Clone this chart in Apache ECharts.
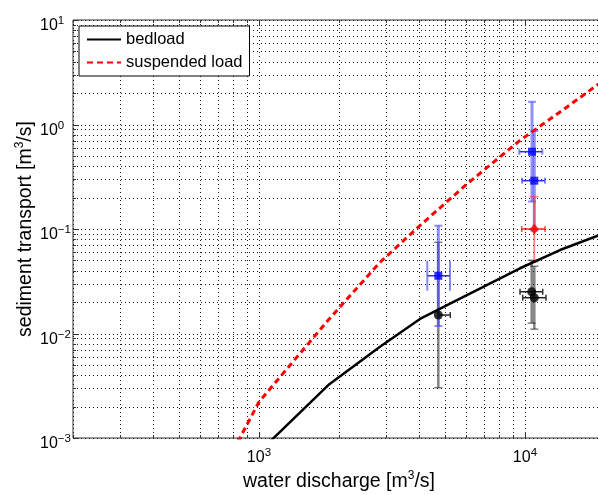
<!DOCTYPE html>
<html><head><meta charset="utf-8">
<script src="https://cdn.jsdelivr.net/npm/echarts@6/dist/echarts.min.js"></script>
<style>html,body{margin:0;padding:0;background:#fff;overflow:hidden}#c{width:598px;height:495px}</style>
</head><body><div id="c"></div>
<script>
// ---- grid / tick values ----
const xGridTicks = [200,300,400,500,600,700,800,900,1000,2000,3000,4000,5000,6000,7000,8000,9000,10000,20000];
const yGridTicks = [0.001,0.002,0.003,0.004,0.005,0.006,0.007,0.008,0.009,
  0.01,0.02,0.03,0.04,0.05,0.06,0.07,0.08,0.09,
  0.1,0.2,0.3,0.4,0.5,0.6,0.7,0.8,0.9,
  1,2,3,4,5,6,7,8,9,10];
const xMajor = [1000,10000];
const yMajor = [0.001,0.01,0.1,1,10];

// ---- curves ----
const bedQ = [1000, 1823, 2852, 4032, 6000, 9583, 13548, 20000];
const bedV = [0.00073, 0.00321, 0.00748, 0.01377, 0.0230, 0.0421, 0.0629, 0.0916];
const susQ = [800, 1000, 1823, 2852, 4032, 6000, 9583, 13548, 20000];
const susV = [0.000755, 0.00221, 0.01346, 0.048, 0.108, 0.264, 0.705, 1.317, 2.70];

// ---- measurements with error bars ----
const blackQ   = [4725, 10603, 10845];
const blackV   = [0.01503, 0.0251, 0.0220];
const blackVLo = [0.00303, 0.01255, 0.0110];
const blackVHi = [0.0746, 0.0502, 0.044];
const blackQLo = [4725, 9583, 9808];
const blackQHi = [5240, 11664, 12000];

const blueQ   = [4725, 10632, 10845];
const blueV   = [0.0357, 0.549, 0.290];
const blueVLo = [0.0118, 0.183, 0.0967];
const blueVHi = [0.1076, 1.65, 0.867];
const blueQLo = [4295, 9524, 9750];
const blueQHi = [5227, 11624, 11900];

const redQ   = [10845];
const redV   = [0.100];
const redVLo = [0.0486];
const redVHi = [0.204];
const redQLo = [9723];
const redQHi = [11900];

function zip(a,b){ return a.map((v,i)=>[v,b[i]]); }
function errRows(Q,V,VL,VH,QL,QH){ return Q.map((q,i)=>[q,V[i],VL[i],VH[i],QL[i],QH[i]]); }

const FONT = 'Liberation Sans, Arial, sans-serif';

function supLabel(v){
  const e = Math.log10(v), r = Math.round(e);
  if (Math.abs(e - r) > 1e-6) return '';
  return '{b|10}{s|' + (r < 0 ? '\u2212' + (-r) : r) + '}';
}
const labelRich = {
  b: {fontSize: 16, fontFamily: FONT, color: '#000', lineHeight: 22},
  s: {fontSize: 11.5, fontFamily: FONT, color: '#000', lineHeight: 4, verticalAlign: 'top'}
};

function cr(v){ return Math.round(v) + 0.5; }
const GRID_STROKE = '#1a1a1a';
const GRID_DASH = [1, 3];

function gridXRender(params, api){
  const cs = params.coordSys;
  const v = api.value(0);
  const x = cr(api.coord([v, 1])[0]);
  const major = xMajor.indexOf(v) >= 0;
  const t = major ? 6 : 3;
  const top = cs.y, bot = cs.y + cs.height;
  return {type:'group', children:[
    {type:'line', shape:{x1:x,y1:top,x2:x,y2:bot}, style:{stroke:GRID_STROKE, lineWidth:1, lineDash:GRID_DASH}},
    {type:'line', shape:{x1:x,y1:bot,x2:x,y2:bot-t}, style:{stroke:'#333', lineWidth:1}},
    {type:'line', shape:{x1:x,y1:top,x2:x,y2:top+t}, style:{stroke:'#333', lineWidth:1}}
  ]};
}
function gridYRender(params, api){
  const cs = params.coordSys;
  const v = api.value(1);
  const y = cr(api.coord([1000, v])[1]);
  const major = yMajor.indexOf(v) >= 0;
  const t = major ? 6 : 3;
  const l = cs.x, r = cs.x + cs.width;
  return {type:'group', children:[
    {type:'line', shape:{x1:l,y1:y,x2:r,y2:y}, style:{stroke:GRID_STROKE, lineWidth:1, lineDash:GRID_DASH}},
    {type:'line', shape:{x1:l,y1:y,x2:l+t,y2:y}, style:{stroke:'#333', lineWidth:1}},
    {type:'line', shape:{x1:r,y1:y,x2:r-t,y2:y}, style:{stroke:'#333', lineWidth:1}}
  ]};
}

function errRender(st){
  return function(params, api){
    const q = api.value(0), v = api.value(1);
    const c = api.coord([q, v]);
    const lo = api.coord([q, api.value(2)]);
    const hi = api.coord([q, api.value(3)]);
    const l = api.coord([api.value(4), v]);
    const r = api.coord([api.value(5), v]);
    const hc = st.hCap[params.dataIndex];
    const vc = st.vCap;
    return {type:'group', children:[
      {type:'line', shape:{x1:c[0],y1:lo[1],x2:c[0],y2:hi[1]}, style:{stroke:st.vColor, lineWidth:st.vWidth}},
      {type:'line', shape:{x1:c[0]-vc,y1:lo[1],x2:c[0]+vc,y2:lo[1]}, style:{stroke:st.vColor, lineWidth:st.capWidth}},
      {type:'line', shape:{x1:c[0]-vc,y1:hi[1],x2:c[0]+vc,y2:hi[1]}, style:{stroke:st.vColor, lineWidth:st.capWidth}},
      {type:'line', shape:{x1:l[0],y1:c[1],x2:r[0],y2:c[1]}, style:{stroke:st.hColor, lineWidth:st.hWidth}},
      {type:'line', shape:{x1:l[0],y1:c[1]-hc,x2:l[0],y2:c[1]+hc}, style:{stroke:st.hCapColor, lineWidth:st.capWidth}},
      {type:'line', shape:{x1:r[0],y1:c[1]-hc,x2:r[0],y2:c[1]+hc}, style:{stroke:st.hCapColor, lineWidth:st.capWidth}}
    ]};
  };
}

const chart = echarts.init(document.getElementById('c'), null, {renderer:'canvas'});
chart.setOption({
  animation: false,
  backgroundColor: '#fff',
  grid: {left: 73, top: 20, right: -7, bottom: 57, outerBoundsMode: 'none', containLabel: false,
    show: true, borderColor: '#333', borderWidth: 1, backgroundColor: 'transparent'},
  legend: {
    data: [
      {name: 'bedload', itemStyle: {color: 'transparent', borderWidth: 0}},
      {name: 'suspended load', itemStyle: {color: 'transparent', borderWidth: 0}}
    ],
    orient: 'vertical', left: 79, top: 26,
    padding: [5, 7, 5, 7], itemGap: 6, itemWidth: 34, itemHeight: 14,
    borderColor: '#000', borderWidth: 1, backgroundColor: '#fff', borderRadius: 0,
    textStyle: {fontSize: 16.5, fontFamily: FONT, color: '#000', lineHeight: 14},
    selectedMode: false
  },
  xAxis: {
    type: 'log', logBase: 10, min: 200, max: 20000,
    axisLine: {show: false}, axisTick: {show: false}, splitLine: {show: false}, minorTick: {show:false},
    axisLabel: {formatter: supLabel, rich: labelRich, margin: 9, showMinLabel: true, showMaxLabel: true},
    name: 'water discharge [m{s|3}/s]', nameLocation: 'middle', nameGap: 32, nameMoveOverlap: false,
    nameTextStyle: {fontSize: 19.5, fontFamily: FONT, color: '#000', lineHeight: 24,
      rich: {s: {fontSize: 12, fontFamily: FONT, color: '#000', lineHeight: 6, verticalAlign: 'top'}}}
  },
  yAxis: {
    type: 'log', logBase: 10, min: 0.001, max: 10,
    axisLine: {show: false}, axisTick: {show: false}, splitLine: {show: false}, minorTick: {show:false},
    axisLabel: {formatter: supLabel, rich: labelRich, margin: 33, align: 'left', padding: [12, 0, 0, 0], showMinLabel: true, showMaxLabel: true},
    name: 'sediment transport [m{s|3}/s]', nameLocation: 'middle', nameGap: 35, nameMoveOverlap: false,
    nameTextStyle: {fontSize: 19.5, fontFamily: FONT, color: '#000', lineHeight: 24,
      rich: {s: {fontSize: 12, fontFamily: FONT, color: '#000', lineHeight: 6, verticalAlign: 'top'}}}
  },
  series: [
    {type: 'custom', name: 'gridx', silent: true, data: xGridTicks.map(v => [v, 1]), renderItem: gridXRender, z: 1},
    {type: 'custom', name: 'gridy', silent: true, data: yGridTicks.map(v => [1000, v]), renderItem: gridYRender, z: 1},
    {type: 'custom', name: 'errBlack', silent: true, z: 2,
      data: errRows(blackQ, blackV, blackVLo, blackVHi, blackQLo, blackQHi),
      renderItem: errRender({vColor:'rgba(30,30,30,0.55)', vWidth:2.5, capWidth:1.5, vCap:4, hColor:'#222', hWidth:1.5, hCapColor:'#333', hCap:[3,3,3]})},
    {type: 'custom', name: 'errBlue', silent: true, z: 2,
      data: errRows(blueQ, blueV, blueVLo, blueVHi, blueQLo, blueQHi),
      renderItem: errRender({vColor:'rgba(70,70,255,0.6)', vWidth:3, capWidth:2, vCap:4, hColor:'rgba(20,20,255,0.9)', hWidth:1.5, hCapColor:'rgba(70,70,255,0.65)', hCap:[15,3,3]})},
    {type: 'custom', name: 'errRed', silent: true, z: 2,
      data: errRows(redQ, redV, redVLo, redVHi, redQLo, redQHi),
      renderItem: errRender({vColor:'rgba(255,60,60,0.65)', vWidth:1.8, capWidth:1.5, vCap:4, hColor:'rgba(255,0,0,0.85)', hWidth:1.5, hCapColor:'rgba(255,0,0,0.7)', hCap:[3]})},
    {type: 'line', name: 'bedload', data: zip(bedQ, bedV), symbol: 'none', z: 3, clip: true,
      lineStyle: {color: '#000', width: 2.5}, itemStyle: {color: '#000'}},
    {type: 'line', name: 'suspended load', data: zip(susQ, susV), symbol: 'none', z: 3, clip: true,
      lineStyle: {color: '#ff0000', width: 3, type: [6, 4]}, itemStyle: {color: '#ff0000'}},
    {type: 'scatter', name: 'blackPts', data: zip(blackQ, blackV), symbol: 'circle', symbolSize: 9, z: 4,
      itemStyle: {color: '#000'}},
    {type: 'scatter', name: 'bluePts', data: zip(blueQ, blueV), symbol: 'rect', symbolSize: 8, z: 4,
      itemStyle: {color: '#0000ff'}},
    {type: 'scatter', name: 'redPts', data: zip(redQ, redV), symbol: 'diamond', symbolSize: [9, 11], z: 4,
      itemStyle: {color: '#ff0000'}}
  ]
});
</script>
</body></html>
